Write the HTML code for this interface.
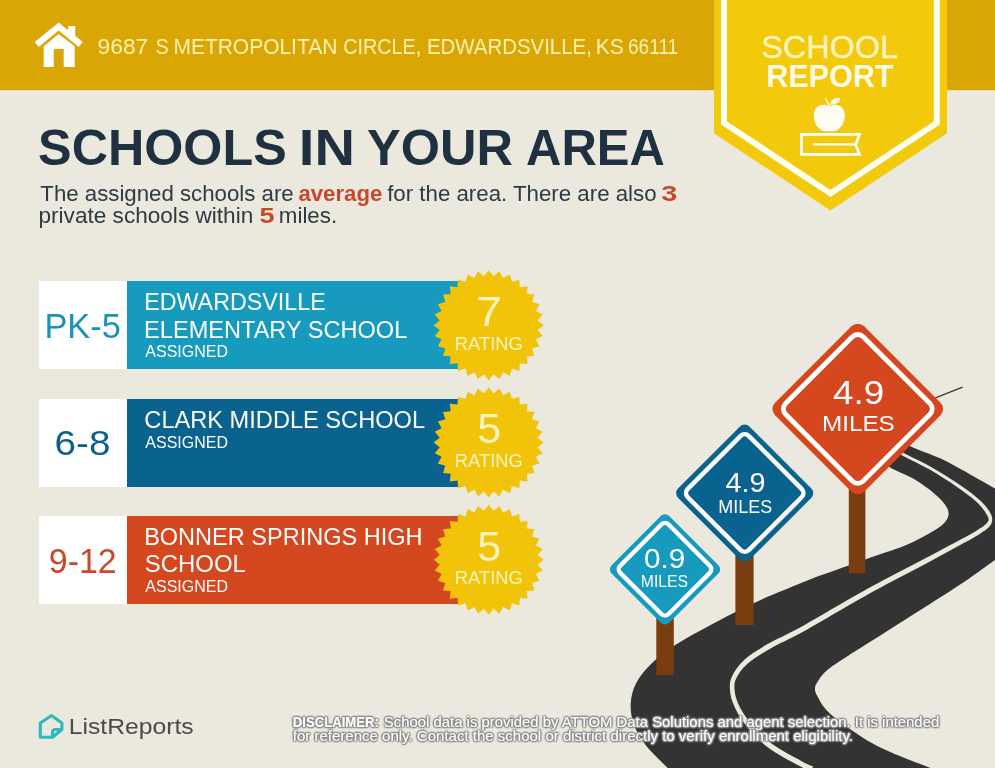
<!DOCTYPE html>
<html><head><meta charset="utf-8"><title>School Report</title>
<style>
html,body{margin:0;padding:0;}
body{width:995px;height:768px;overflow:hidden;background:#ebe8dd;position:relative;}
svg{position:absolute;left:0;top:0;}
svg text{font-family:"Liberation Sans",sans-serif;white-space:pre;}
.disc text{fill:#fff;}
</style></head><body>
<svg width="995" height="768" viewBox="0 0 995 768" style="opacity:0.9999">
  <defs>
    <filter id="ds" x="-2%" y="-40%" width="104%" height="180%">
      <feGaussianBlur in="SourceAlpha" stdDeviation="0.8" result="b"/>
      <feComponentTransfer in="b" result="a"><feFuncA type="linear" slope="5"/></feComponentTransfer>
      <feOffset in="a" dx="0.25" dy="0.3" result="o"/>
      <feFlood flood-color="#909090"/><feComposite in2="o" operator="in" result="g"/>
      <feMerge><feMergeNode in="g"/><feMergeNode in="SourceGraphic"/></feMerge>
    </filter>
  </defs>
  <rect x="0" y="0" width="995" height="90.2" fill="#daa605"/>
  <!-- road -->
  <path d="M900 412 L962.5 387.2" stroke="#333" stroke-width="1.3" fill="none"/>
  <path d="M905.0 440.0 C906.0 441.1 904.9 443.3 910.9 446.4 C916.9 449.5 930.6 453.8 940.8 458.6 C951.0 463.5 963.1 470.5 972.1 475.5 C981.1 480.5 988.7 484.9 995.0 488.5 C1001.3 492.1 1007.5 495.6 1010.0 497.0 L1010 549 C1007.5 550.8 999.4 556.8 995.0 560.0 C990.6 563.2 989.3 564.1 983.8 568.0 C978.2 571.9 971.5 577.1 961.7 583.6 C951.9 590.1 937.8 599.1 925.2 607.1 C912.6 615.1 899.1 623.6 886.1 631.8 C873.1 640.0 857.1 650.0 847.1 656.5 C837.1 663.0 831.3 666.5 826.3 670.9 C821.3 675.2 819.0 679.6 817.1 682.6 C815.2 685.6 815.0 686.8 815.0 689.0 C815.0 691.2 815.2 692.1 817.1 695.6 C819.0 699.1 821.3 704.7 826.3 709.9 C831.3 715.1 838.0 720.6 847.1 726.9 C856.2 733.2 867.0 740.9 880.9 747.7 C894.8 754.6 919.7 763.6 930.4 768.0 C941.1 772.4 942.6 773.0 945.0 774.0 L674.0 774.0 C673.0 773.0 672.4 772.8 667.7 768.0 C663.0 763.2 651.2 752.4 645.6 745.1 C640.0 737.8 636.4 731.2 633.9 724.3 C631.4 717.3 630.3 710.3 630.7 703.4 C631.1 696.5 632.9 689.3 636.5 682.6 C640.1 675.9 645.6 669.4 652.1 663.1 C658.6 656.8 664.6 651.8 675.5 644.8 C686.4 637.8 703.7 628.5 717.2 621.4 C730.7 614.2 742.5 608.2 756.3 601.9 C770.1 595.6 789.2 588.0 800.0 583.6 C810.8 579.2 810.1 579.3 821.0 575.3 C831.9 571.3 851.4 564.3 865.3 559.4 C879.2 554.5 893.5 550.2 904.4 545.8 C915.2 541.4 923.7 536.7 930.4 532.8 C937.1 528.9 941.7 525.6 944.7 522.4 C947.7 519.1 948.6 516.3 948.6 513.3 C948.6 510.3 947.3 507.7 944.7 504.2 C942.1 500.7 938.4 496.8 933.0 492.4 C927.6 488.0 919.1 482.1 912.2 478.1 C905.3 474.1 895.9 470.9 891.4 468.2 C886.9 465.5 886.1 463.0 885.0 462.0 Z" fill="#333333"/>
  <path d="M896.2 451.1 C897.2 451.8 896.8 452.4 902.3 455.4 C907.9 458.5 920.8 464.4 929.7 469.5 C938.5 474.6 947.8 480.6 955.6 486.0 C963.3 491.3 970.8 496.7 976.1 501.6 C981.4 506.5 985.4 512.0 987.3 515.5 C989.1 519.0 989.1 520.0 987.3 522.6 C985.4 525.2 982.3 527.2 976.1 530.9 C970.0 534.7 960.1 539.7 950.2 545.0 C940.3 550.3 928.1 556.8 916.8 562.8 C905.5 568.7 893.5 574.7 882.3 580.7 C871.1 586.7 863.6 590.8 849.7 598.7 C835.8 606.6 812.3 620.7 798.7 628.2 C785.1 635.7 777.1 638.6 768.0 643.8 C758.9 649.1 750.1 654.5 744.1 659.9 C738.1 665.4 734.3 671.3 732.0 676.4 C729.6 681.5 729.6 685.5 730.0 690.6 C730.4 695.7 731.8 701.1 734.6 707.0 C737.3 712.9 741.0 719.2 746.5 725.9 C752.0 732.6 759.0 740.6 767.7 747.2 C776.4 753.8 791.5 761.6 798.7 765.6 C805.9 769.6 808.8 770.4 810.9 771.4 L813.1 766.6 C811.2 765.7 808.3 764.9 801.3 761.0 C794.2 757.1 779.4 749.4 770.9 743.0 C762.4 736.6 755.7 729.0 750.3 722.7 C745.0 716.4 741.4 710.4 738.8 705.0 C736.2 699.6 735.0 694.6 734.6 690.2 C734.2 685.8 734.1 682.8 736.2 678.4 C738.4 674.0 741.7 668.7 747.5 663.7 C753.2 658.7 761.6 653.5 770.6 648.4 C779.6 643.2 787.7 640.3 801.3 632.8 C814.9 625.3 838.4 611.2 852.3 603.3 C866.2 595.4 873.6 591.3 884.7 585.3 C895.9 579.3 907.9 573.2 919.2 567.2 C930.5 561.2 942.5 554.6 952.4 549.2 C962.3 543.7 972.1 538.7 978.5 534.7 C984.8 530.6 988.7 528.3 990.7 524.8 C992.8 521.3 992.8 518.0 990.7 513.7 C988.7 509.4 984.1 504.1 978.5 499.0 C973.0 493.9 965.3 488.6 957.4 483.2 C949.5 477.9 940.1 471.9 931.1 466.9 C922.2 461.9 909.2 456.0 903.7 453.0 C898.1 450.0 898.8 449.6 897.8 448.9 Z" fill="#ebe8dd"/>
  <!-- posts -->
  <rect x="656.3" y="600" width="17.5" height="75" fill="#7a3d0f"/>
  <rect x="735.4" y="540" width="18.2" height="85" fill="#7a3d0f"/>
  <rect x="848.8" y="470" width="16.6" height="103.2" fill="#7a3d0f"/>
  <!-- ribbon -->
  <polygon points="714,0 947,0 947,133.2 830.4,210.5 714,133.2" fill="#f3ca0b"/>
  <polyline points="724,-5 724,123 830.4,193.4 936.8,123 936.8,-5" fill="none" stroke="#fffff4" stroke-width="6"/>
  <text x="761.16" y="57.8" font-size="31" textLength="136.78" lengthAdjust="spacingAndGlyphs" fill="#fdf4bd" stroke="#fdf4bd" stroke-width="0.35">SCHOOL</text>
  <text x="766.16" y="87.3" font-size="31" textLength="127.36" lengthAdjust="spacingAndGlyphs" fill="#fffbe6" font-weight="bold">REPORT</text>
  

  <!-- apple + book -->
  <g fill="#fffdf2" stroke="none">
    <path d="M829.3 106.5 C823 102.5 813.8 105.5 813.8 115.5 C813.8 125 821 133.5 829.3 131 C837.6 133.5 844.8 125 844.8 115.5 C844.8 105.5 835.6 102.5 829.3 106.5 Z"/>
    <path d="M830 104.5 C830.5 100 834.5 97.3 840.5 98 C839.5 102.5 836 105 830 104.5 Z"/>
    <path d="M829.3 106 L825.2 98" stroke="#fff" stroke-width="1.4" fill="none"/>
  </g>
  <g fill="none" stroke="#fff" stroke-width="2.7" stroke-linejoin="miter">
    <path d="M859.5 134.3 L801.5 134.3 L801.5 154.4 L859.5 154.4 L855.7 144.4 Z"/>
    <path d="M813 144.4 L855.7 144.4" stroke-width="2.4"/>
  </g>
  <!-- house icon -->
  <g fill="#fff" transform="translate(0.7,0.5)">
    <polygon points="58,22 34,41.5 38,46.5 58,30 78,46.5 82,41.5 74.5,35.3 74.5,25.5 67.5,25.5 67.5,29.7"/>
    <path d="M58 33.5 L43 45.8 L43 66.5 L53 66.5 L53 48.5 L63 48.5 L63 66.5 L74 66.5 L74 45.8 Z"/>
  </g>
  <text x="97.63" y="54.2" font-size="21.5" textLength="50.65" lengthAdjust="spacingAndGlyphs" fill="#fdf2ae">9687</text>
  <text x="155.45" y="54.2" font-size="21.5" textLength="13.20" lengthAdjust="spacingAndGlyphs" fill="#fdf2ae">S</text>
  <text x="173.47" y="54.2" font-size="21.5" textLength="163.84" lengthAdjust="spacingAndGlyphs" fill="#fdf2ae">METROPOLITAN</text>
  <text x="343.34" y="54.2" font-size="21.5" textLength="77.95" lengthAdjust="spacingAndGlyphs" fill="#fdf2ae">CIRCLE,</text>
  <text x="426.91" y="54.2" font-size="21.5" textLength="164.93" lengthAdjust="spacingAndGlyphs" fill="#fdf2ae">EDWARDSVILLE,</text>
  <text x="595.80" y="54.2" font-size="21.5" textLength="28.11" lengthAdjust="spacingAndGlyphs" fill="#fdf2ae">KS</text>
  <text x="628.03" y="54.2" font-size="21.5" textLength="50.17" lengthAdjust="spacingAndGlyphs" fill="#fdf2ae">66111</text>
  
  <!-- title -->
  <text x="38.10" y="165" font-size="49.5" textLength="248.65" lengthAdjust="spacingAndGlyphs" fill="#1f3040" font-weight="bold">SCHOOLS</text>
  <text x="298.83" y="165" font-size="49.5" textLength="56.07" lengthAdjust="spacingAndGlyphs" fill="#1f3040" font-weight="bold">IN</text>
  <text x="367.03" y="165" font-size="49.5" textLength="145.93" lengthAdjust="spacingAndGlyphs" fill="#1f3040" font-weight="bold">YOUR</text>
  <text x="526.03" y="165" font-size="49.5" textLength="138.82" lengthAdjust="spacingAndGlyphs" fill="#1f3040" font-weight="bold">AREA</text>
  



  <!-- subtitle -->
  <text x="40.35" y="201.2" font-size="21.3" textLength="253.36" lengthAdjust="spacingAndGlyphs" fill="#2e3a44">The assigned schools are</text>
  <text x="298.46" y="201.2" font-size="21.3" textLength="83.87" lengthAdjust="spacingAndGlyphs" fill="#c8482c" font-weight="bold">average</text>
  <text x="387.17" y="201.2" font-size="21.3" textLength="269.39" lengthAdjust="spacingAndGlyphs" fill="#2e3a44">for the area. There are also</text>
  <text x="661.20" y="201.2" font-size="21.3" textLength="15.97" lengthAdjust="spacingAndGlyphs" fill="#c8482c" font-weight="bold">3</text>
  <text x="38.52" y="223.4" font-size="21.3" textLength="214.71" lengthAdjust="spacingAndGlyphs" fill="#2e3a44">private schools within</text>
  <text x="259.51" y="223.4" font-size="21.3" textLength="15.07" lengthAdjust="spacingAndGlyphs" fill="#c8482c" font-weight="bold">5</text>
  <text x="278.82" y="223.4" font-size="21.3" textLength="58.34" lengthAdjust="spacingAndGlyphs" fill="#2e3a44">miles.</text>
  






  <!-- rows -->
  <rect x="39" y="281" width="88" height="88" fill="#fff"/><rect x="127" y="281" width="331.8" height="88" fill="#169abe"/>
  <rect x="39" y="399" width="88" height="88" fill="#fff"/><rect x="127" y="399" width="331.8" height="88" fill="#0a628f"/>
  <rect x="39" y="516" width="88" height="88" fill="#fff"/><rect x="127" y="516" width="331.8" height="88" fill="#d5471e"/>
  <text x="44.39" y="337.5" font-size="34.5" textLength="76.40" lengthAdjust="spacingAndGlyphs" fill="#1b93b5">PK-5</text>
  <text x="54.57" y="455.3" font-size="34.5" textLength="55.84" lengthAdjust="spacingAndGlyphs" fill="#0e5f8b">6-8</text>
  <text x="48.87" y="572.8" font-size="34.5" textLength="67.85" lengthAdjust="spacingAndGlyphs" fill="#c8482c">9-12</text>
  <text x="144.16" y="310.2" font-size="23.2" textLength="181.58" lengthAdjust="spacingAndGlyphs" fill="#fff">EDWARDSVILLE</text>
  <text x="144.14" y="337.6" font-size="23.2" textLength="263.13" lengthAdjust="spacingAndGlyphs" fill="#fff">ELEMENTARY SCHOOL</text>
  <text x="145.35" y="357.3" font-size="15.7" textLength="82.60" lengthAdjust="spacingAndGlyphs" fill="#fff">ASSIGNED</text>
  <text x="144.36" y="428" font-size="23.2" textLength="280.69" lengthAdjust="spacingAndGlyphs" fill="#fff">CLARK MIDDLE SCHOOL</text>
  <text x="145.35" y="448" font-size="15.7" textLength="82.60" lengthAdjust="spacingAndGlyphs" fill="#fff">ASSIGNED</text>
  <text x="144.15" y="544.9" font-size="23.2" textLength="278.32" lengthAdjust="spacingAndGlyphs" fill="#fff">BONNER SPRINGS HIGH</text>
  <text x="144.84" y="572.3" font-size="23.2" textLength="101.10" lengthAdjust="spacingAndGlyphs" fill="#fff">SCHOOL</text>
  <text x="145.35" y="591.6" font-size="15.7" textLength="82.60" lengthAdjust="spacingAndGlyphs" fill="#fff">ASSIGNED</text>
  
  <polygon points="488.7,270.2 493.5,276.2 499.4,271.3 503.0,278.1 509.7,274.4 511.9,281.8 519.3,279.5 519.9,287.2 527.6,286.3 526.7,294.0 534.4,294.6 532.1,302.0 539.5,304.2 535.8,310.9 542.6,314.5 537.7,320.4 543.7,325.2 537.7,330.0 542.6,335.9 535.8,339.5 539.5,346.2 532.1,348.4 534.4,355.8 526.7,356.4 527.6,364.1 519.9,363.2 519.3,370.9 511.9,368.6 509.7,376.0 503.0,372.3 499.4,379.1 493.5,374.2 488.7,380.2 483.9,374.2 478.0,379.1 474.4,372.3 467.7,376.0 465.5,368.6 458.1,370.9 457.5,363.2 449.8,364.1 450.7,356.4 443.0,355.8 445.3,348.4 437.9,346.2 441.6,339.5 434.8,335.9 439.7,330.0 433.7,325.2 439.7,320.4 434.8,314.5 441.6,310.9 437.9,304.2 445.3,302.0 443.0,294.6 450.7,294.0 449.8,286.3 457.5,287.2 458.1,279.5 465.5,281.8 467.7,274.4 474.4,278.1 478.0,271.3 483.9,276.2" fill="#f1c40a"/>
  <polygon points="488.7,387.5 493.5,393.5 499.4,388.6 503.0,395.4 509.7,391.7 511.9,399.1 519.3,396.8 519.9,404.5 527.6,403.6 526.7,411.3 534.4,411.9 532.1,419.3 539.5,421.5 535.8,428.2 542.6,431.8 537.7,437.7 543.7,442.5 537.7,447.3 542.6,453.2 535.8,456.8 539.5,463.5 532.1,465.7 534.4,473.1 526.7,473.7 527.6,481.4 519.9,480.5 519.3,488.2 511.9,485.9 509.7,493.3 503.0,489.6 499.4,496.4 493.5,491.5 488.7,497.5 483.9,491.5 478.0,496.4 474.4,489.6 467.7,493.3 465.5,485.9 458.1,488.2 457.5,480.5 449.8,481.4 450.7,473.7 443.0,473.1 445.3,465.7 437.9,463.5 441.6,456.8 434.8,453.2 439.7,447.3 433.7,442.5 439.7,437.7 434.8,431.8 441.6,428.2 437.9,421.5 445.3,419.3 443.0,411.9 450.7,411.3 449.8,403.6 457.5,404.5 458.1,396.8 465.5,399.1 467.7,391.7 474.4,395.4 478.0,388.6 483.9,393.5" fill="#f1c40a"/>
  <polygon points="488.7,504.8 493.5,510.8 499.4,505.9 503.0,512.7 509.7,509.0 511.9,516.4 519.3,514.1 519.9,521.8 527.6,520.9 526.7,528.6 534.4,529.2 532.1,536.6 539.5,538.8 535.8,545.5 542.6,549.1 537.7,555.0 543.7,559.8 537.7,564.6 542.6,570.5 535.8,574.1 539.5,580.8 532.1,583.0 534.4,590.4 526.7,591.0 527.6,598.7 519.9,597.8 519.3,605.5 511.9,603.2 509.7,610.6 503.0,606.9 499.4,613.7 493.5,608.8 488.7,614.8 483.9,608.8 478.0,613.7 474.4,606.9 467.7,610.6 465.5,603.2 458.1,605.5 457.5,597.8 449.8,598.7 450.7,591.0 443.0,590.4 445.3,583.0 437.9,580.8 441.6,574.1 434.8,570.5 439.7,564.6 433.7,559.8 439.7,555.0 434.8,549.1 441.6,545.5 437.9,538.8 445.3,536.6 443.0,529.2 450.7,528.6 449.8,520.9 457.5,521.8 458.1,514.1 465.5,516.4 467.7,509.0 474.4,512.7 478.0,505.9 483.9,510.8" fill="#f1c40a"/>
  <text x="475.98" y="326.09999999999997" font-size="43" textLength="25.92" lengthAdjust="spacingAndGlyphs" fill="#fdf4bd">7</text>
  <text x="454.88" y="349.5" font-size="17.5" textLength="67.96" lengthAdjust="spacingAndGlyphs" fill="#fdf4bd">RATING</text>
  <text x="477.21" y="443.4" font-size="43" textLength="23.94" lengthAdjust="spacingAndGlyphs" fill="#fdf4bd">5</text>
  <text x="454.88" y="466.8" font-size="17.5" textLength="67.96" lengthAdjust="spacingAndGlyphs" fill="#fdf4bd">RATING</text>
  <text x="477.22" y="560.6999999999999" font-size="43" textLength="23.80" lengthAdjust="spacingAndGlyphs" fill="#fdf4bd">5</text>
  <text x="454.88" y="584.0999999999999" font-size="17.5" textLength="67.96" lengthAdjust="spacingAndGlyphs" fill="#fdf4bd">RATING</text>
  
  <!-- signs -->
  <rect x="794.8" y="346.0" width="126.0" height="126.0" rx="9" fill="#d5471e" transform="rotate(45 857.8 409)"/>
  <rect x="802.9" y="354.1" width="109.7" height="109.7" rx="7.6" fill="none" stroke="#fff" stroke-width="4.8" transform="rotate(45 857.8 409)"/>
  <text x="833.06" y="404" font-size="33.5" textLength="51.11" lengthAdjust="spacingAndGlyphs" fill="#fff">4.9</text>
  <text x="821.95" y="431" font-size="22.3" textLength="72.89" lengthAdjust="spacingAndGlyphs" fill="#fff">MILES</text>
  

  <rect x="694.2" y="442.6" width="101.0" height="101.0" rx="7" fill="#0a628f" transform="rotate(45 744.7 493.1)"/>
  <rect x="701.4" y="449.8" width="86.5" height="86.5" rx="6.0" fill="none" stroke="#fff" stroke-width="4.5" transform="rotate(45 744.7 493.1)"/>
  <text x="725.60" y="492" font-size="27" textLength="39.98" lengthAdjust="spacingAndGlyphs" fill="#fff">4.9</text>
  <text x="718.27" y="513" font-size="18.2" textLength="53.92" lengthAdjust="spacingAndGlyphs" fill="#fff">MILES</text>
  

  <rect x="624.3" y="528.6" width="81.5" height="81.5" rx="6" fill="#169abe" transform="rotate(45 665 569.3)"/>
  <rect x="630.8" y="535.1" width="68.4" height="68.4" rx="5.1" fill="none" stroke="#fff" stroke-width="4.4" transform="rotate(45 665 569.3)"/>
  <text x="644.12" y="568" font-size="27" textLength="41.27" lengthAdjust="spacingAndGlyphs" fill="#fff">0.9</text>
  <text x="640.87" y="586.9" font-size="15.6" textLength="47.14" lengthAdjust="spacingAndGlyphs" fill="#fff">MILES</text>
  

  <!-- ListReports logo -->
  <path d="M40.3 737.3 L40.3 723 L51.5 715.5 L61.9 723 L61.9 729.5 L52.5 737.3 Z M52.5 737.3 L52.5 732.5 Q52.5 729.5 55.5 729.5 L61.9 729.5" fill="none" stroke="#2fb9bf" stroke-width="3.1" stroke-linejoin="round"/>
  <text x="68.70" y="734.4" font-size="22.8" textLength="125.04" lengthAdjust="spacingAndGlyphs" fill="#4b4b4b">ListReports</text>
  
  <g class="disc" filter="url(#ds)">
  <text x="292.86" y="727" font-size="14.2" textLength="86.00" lengthAdjust="spacingAndGlyphs" fill="#fff" font-weight="bold">DISCLAIMER:</text>
  <text x="383.87" y="727" font-size="14.2" textLength="555.34" lengthAdjust="spacingAndGlyphs" fill="#fff">School data is provided by ATTOM Data Solutions and agent selection. It is intended</text>
  <text x="292.81" y="740.5" font-size="14.2" textLength="560.18" lengthAdjust="spacingAndGlyphs" fill="#fff">for reference only. Contact the school or district directly to verify enrollment eligibility.</text>
  


  </g>
</svg>
</body></html>
